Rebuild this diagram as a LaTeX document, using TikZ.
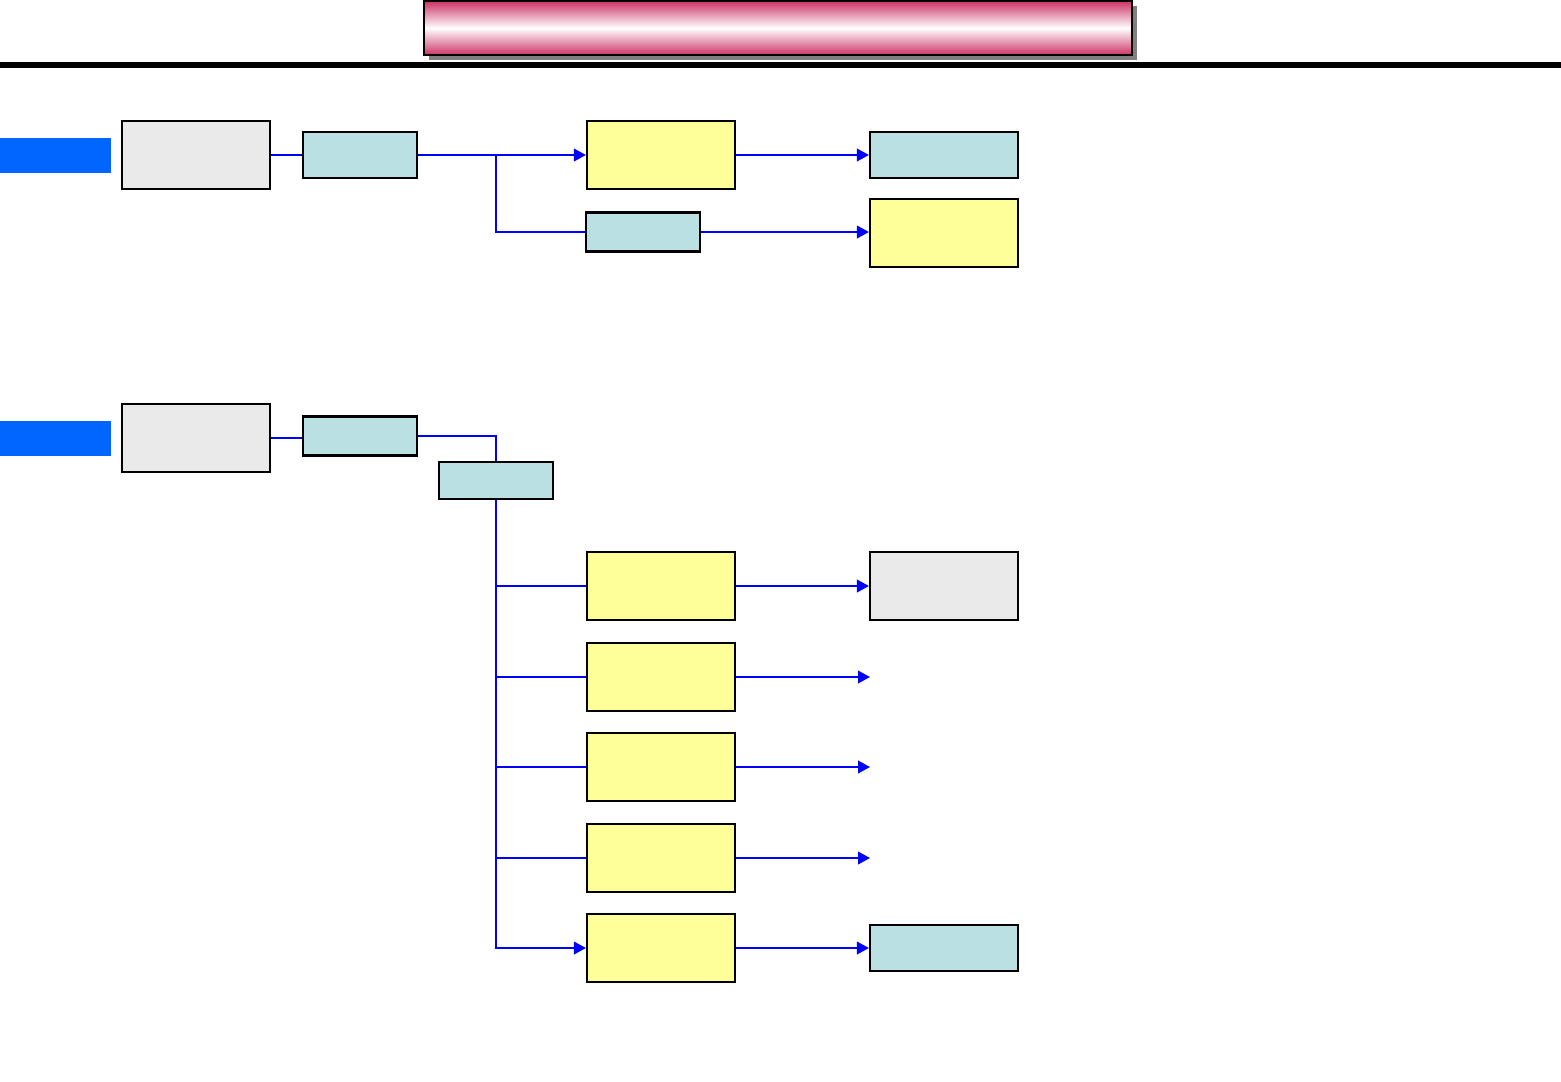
\documentclass[tikz,border=0pt]{standalone}
\usetikzlibrary{arrows.meta}
\definecolor{tab}{HTML}{0066FF}
\definecolor{greybox}{HTML}{EAEAEA}
\definecolor{tealbox}{HTML}{BBE0E3}
\definecolor{yelbox}{HTML}{FFFF99}
\definecolor{banner}{HTML}{CC3366}
\definecolor{wireblue}{HTML}{0000FF}

\begin{document}
\begin{tikzpicture}[x=0.01cm,y=-0.01cm,box/.style={draw=black,line width=0.6pt,inner sep=0pt},big/.style={box,minimum width=1.48cm,minimum height=0.68cm},tag/.style={box,fill=tealbox,minimum width=1.14cm,minimum height=0.39cm},wide/.style={box,fill=tealbox,minimum width=1.48cm,minimum height=0.46cm},wire/.style={wireblue,line width=0.45pt},arr/.style={wire,-{Triangle[length=3.4pt,width=3.6pt]}}]
 \useasboundingbox (0,0) rectangle (1561,1081);
 % banner and rule
 \fill[black!50] (429,6) rectangle (1137,60);
 \shade[top color=banner,bottom color=banner,middle color=white,draw=black,line width=0.6pt] (424,1) rectangle (1132,55);
 \draw[line width=1.8pt] (0,65) -- (1561,65);
 \fill[tab] (0,138) rectangle (111,173); \fill[tab] (0,421) rectangle (111,456);
 % first row
 \node[big,fill=greybox] (g1) at (196,155) {};
 \node[tag,minimum height=0.46cm] (t1) at (360,155) {};
 \node[big,fill=yelbox] (y1) at (661,155) {};
 \node[tag] (t2) at (643,232) {};
 \node[wide] (t3) at (944,155) {};
 \node[big,fill=yelbox] (y2) at (944,233) {};
 \coordinate (j1) at (496,155);
 \draw[wire] (g1) -- (t1); \draw[arr] (t1) -- (y1); \draw[wire] (j1) |- (t2.west);
 \draw[arr] (y1) -- (t3); \draw[arr] (t2) -- (t2 -| y2.west);
 % second row
 \node[big,fill=greybox] (g2) at (196,438) {};
 \node[tag] (t4) at (360,436) {};
 \node[tag,minimum height=0.37cm] (t5) at (496,480.5) {};
 \draw[wire] (g2.east) -- (g2.east -| t4.west); \draw[wire] (t4.east) -| (t5.north);
 \foreach \n/\y in {1/586,2/677,3/767,4/858,5/948}{\node[big,fill=yelbox] (yb\n) at (661,\y) {};}
 \node[big,fill=greybox] (g3) at (944,586) {};
 \coordinate (o2) at (870,677); \coordinate (o3) at (870,767); \coordinate (o4) at (870,858);
 \node[wide] (t6) at (944,948) {};
 \foreach \n in {1,...,4}{\draw[wire] (t5.south) |- (yb\n.west);}
 \draw[arr] (t5.south) |- (yb5.west);
 \draw[arr] (yb1) -- (g3); \draw[arr] (yb5) -- (t6);
 \foreach \n in {2,3,4}{\draw[arr] (yb\n.east) -- (o\n);}
\end{tikzpicture}
\end{document}
